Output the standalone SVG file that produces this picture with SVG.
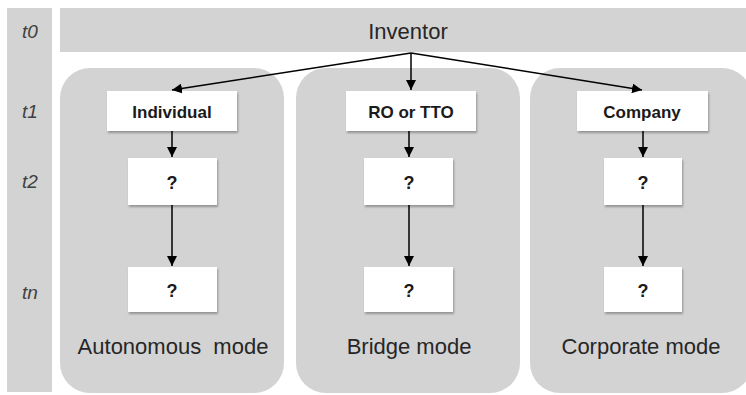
<svg xmlns="http://www.w3.org/2000/svg" width="746" height="395" viewBox="0 0 746 395">
  <style>
    .band { fill: #d3d3d3; }
    .box { fill: #ffffff; filter: url(#sh); }
    .tl { font-family: "Liberation Sans", Arial, sans-serif; font-style: italic; font-size: 19px; fill: #404040; text-anchor: middle; }
    .lbl { font-family: "Liberation Sans", Arial, sans-serif; font-size: 22px; fill: #262626; text-anchor: middle; white-space: pre; }
    .bl { font-family: "Liberation Sans", Arial, sans-serif; font-weight: bold; font-size: 17px; fill: #1a1a1a; text-anchor: middle; }
    .q { font-family: "Liberation Sans", Arial, sans-serif; font-weight: bold; font-size: 18px; fill: #1a1a1a; text-anchor: middle; }
    .arr { stroke: #000; stroke-width: 1.5; fill: none; marker-end: url(#ah); }
  </style>
  <defs>
    <marker id="ah" viewBox="0 0 10 10" refX="10" refY="5" markerWidth="10" markerHeight="10" markerUnits="userSpaceOnUse" orient="auto">
      <path d="M0,0 L10,5 L0,10 Z" fill="#000"/>
    </marker>
    <filter id="sh" x="-10%" y="-10%" width="125%" height="135%">
      <feDropShadow dx="1" dy="2" stdDeviation="1.2" flood-color="#000" flood-opacity="0.3"/>
    </filter>
  </defs>
  <rect width="746" height="395" fill="#ffffff"/>

  <g id="time-axis">
    <rect class="band" x="7" y="8" width="45" height="384"/>
    <text class="tl" x="30" y="38">t0</text>
    <text class="tl" x="30" y="118">t1</text>
    <text class="tl" x="30" y="188">t2</text>
    <text class="tl" x="30" y="299">tn</text>
  </g>

  <g id="inventor">
    <rect class="band" x="60" y="8" width="700" height="44"/>
    <text class="lbl" x="408" y="39">Inventor</text>
  </g>

  <g id="panel-autonomous">
    <rect class="band" x="60" y="68" width="224" height="325" rx="30"/>
    <text class="lbl" x="173" y="354">Autonomous  mode</text>
  </g>
  <g id="panel-bridge">
    <rect class="band" x="296" y="68" width="224" height="325" rx="30"/>
    <text class="lbl" x="409" y="354">Bridge mode</text>
  </g>
  <g id="panel-corporate">
    <rect class="band" x="530" y="68" width="222" height="325" rx="30"/>
    <text class="lbl" x="641" y="354">Corporate mode</text>
  </g>

  <g id="node-individual">
    <rect class="box" x="107" y="91" width="130" height="40"/>
    <text class="bl" x="172" y="118">Individual</text>
  </g>
  <g id="node-ro-tto">
    <rect class="box" x="346" y="91" width="130" height="40"/>
    <text class="bl" x="411" y="118">RO or TTO</text>
  </g>
  <g id="node-company">
    <rect class="box" x="577" y="91" width="131" height="40"/>
    <text class="bl" x="642" y="118">Company</text>
  </g>

  <g id="node-a2">
    <rect class="box" x="128" y="158" width="89" height="47"/>
    <text class="q" x="172" y="189">?</text>
  </g>
  <g id="node-b2">
    <rect class="box" x="364" y="158" width="89" height="47"/>
    <text class="q" x="409" y="189">?</text>
  </g>
  <g id="node-c2">
    <rect class="box" x="604" y="158" width="78" height="47"/>
    <text class="q" x="643" y="189">?</text>
  </g>

  <g id="node-an">
    <rect class="box" x="128" y="267" width="89" height="45"/>
    <text class="q" x="172" y="297">?</text>
  </g>
  <g id="node-bn">
    <rect class="box" x="364" y="267" width="89" height="45"/>
    <text class="q" x="409" y="297">?</text>
  </g>
  <g id="node-cn">
    <rect class="box" x="604" y="267" width="78" height="45"/>
    <text class="q" x="643" y="297">?</text>
  </g>

  <g id="connectors">
    <line class="arr" x1="411" y1="53" x2="172" y2="90"/>
    <line class="arr" x1="411" y1="53" x2="411" y2="90"/>
    <line class="arr" x1="411" y1="53" x2="642" y2="90"/>
    <line class="arr" x1="172" y1="131" x2="172" y2="157"/>
    <line class="arr" x1="409" y1="131" x2="409" y2="157"/>
    <line class="arr" x1="643" y1="131" x2="643" y2="157"/>
    <line class="arr" x1="172" y1="205" x2="172" y2="266"/>
    <line class="arr" x1="409" y1="205" x2="409" y2="266"/>
    <line class="arr" x1="643" y1="205" x2="643" y2="266"/>
  </g>
</svg>
